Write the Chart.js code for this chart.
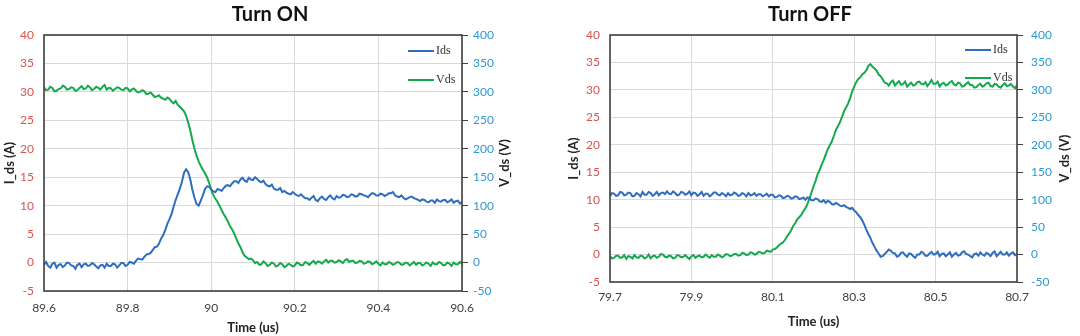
<!DOCTYPE html>
<html lang="en">
<head>
<meta charset="UTF-8">
<title>Turn ON / Turn OFF</title>
<script src="https://cdn.jsdelivr.net/npm/chart.js"></script>
<style>
  body { margin: 0; background: #fff; }
  .wrap { position: absolute; top: 0; width: 540px; height: 336px; }
  #left { left: 0; }
  #right { left: 540px; }
</style>
</head>
<body>
<div class="wrap" id="left"><canvas id="chartOn"></canvas></div>
<div class="wrap" id="right"><canvas id="chartOff"></canvas></div>
<script>
// scope samples, 5 ns apart
const onStart = 89.6, offStart = 79.7, sampleStep = 0.005;

// Turn ON, Ids (A)
const idsOn = [
  -0.4, 0.1, -0.6, -0.9, -0.2, 0.0, -0.9, -0.4, -0.3, -0.8, -0.5, 0.0, -0.1, -0.5, -0.6, -1.1, -0.4, -0.2, -0.8, -0.3,
  -0.2, -0.6, -0.5, -0.1, -0.3, -0.7, -1.0, -0.5, -0.4, -0.9, -0.2, -0.6, -0.6, -0.2, -0.3, -0.9, -0.5, -0.1, -0.1, -0.6,
  -0.4, 0.1, 0.0, -0.2, 0.3, 0.7, 0.6, 0.5, 1.0, 1.4, 1.5, 1.7, 2.2, 2.7, 2.8, 3.3, 4.2, 4.8, 5.7, 6.8,
  7.6, 8.5, 9.8, 11.0, 12.0, 13.0, 14.2, 15.8, 16.4, 15.9, 14.6, 12.8, 11.4, 10.3, 10.0, 10.9, 11.8, 12.9, 13.4, 13.3,
  12.9, 12.5, 12.4, 12.9, 12.8, 12.6, 13.1, 13.5, 13.6, 13.4, 13.9, 14.3, 14.3, 14.0, 14.6, 14.9, 14.4, 14.2, 14.9, 14.6,
  14.5, 15.0, 14.7, 14.3, 14.1, 14.4, 13.8, 13.5, 13.4, 13.7, 13.0, 12.8, 12.8, 13.1, 12.4, 12.6, 12.3, 12.1, 12.0, 12.4,
  12.1, 11.8, 11.7, 12.0, 11.6, 11.3, 11.3, 11.0, 11.4, 11.7, 11.0, 10.8, 11.3, 11.6, 11.2, 11.0, 11.5, 11.8, 11.3, 11.1,
  11.7, 11.4, 11.5, 11.9, 11.8, 11.5, 11.6, 12.0, 11.9, 11.6, 11.7, 12.1, 12.0, 11.8, 11.7, 11.5, 11.9, 12.2, 12.1, 11.8,
  11.8, 12.1, 12.0, 11.7, 11.9, 12.2, 12.2, 12.4, 11.8, 11.6, 11.5, 11.8, 11.4, 11.1, 11.3, 11.5, 11.6, 11.3, 11.2, 11.0,
  10.8, 11.1, 11.0, 10.7, 10.6, 10.9, 10.9, 10.5, 11.1, 10.8, 10.7, 11.0, 11.0, 10.6, 10.8, 11.1, 10.5, 10.8, 10.9, 10.4,
  10.6
];
// Turn ON, Vds (V)
const vdsOn = [
  308, 303, 304, 309, 307, 301, 302, 305, 306, 311, 309, 304, 305, 308, 307, 302, 303, 307, 310, 305,
  306, 311, 308, 303, 305, 309, 307, 304, 309, 312, 304, 307, 306, 302, 305, 308, 307, 304, 303, 307,
  306, 301, 304, 306, 302, 299, 300, 303, 301, 296, 297, 299, 295, 291, 292, 294, 290, 288, 286, 290,
  288, 283, 280, 284, 277, 274, 270, 266, 258, 246, 232, 215, 200, 188, 178, 170, 163, 157, 150, 140,
  128, 119, 112, 107, 100, 92, 85, 79, 72, 64, 58, 51, 42, 34, 27, 18, 12, 9, 6, 7,
  4, -1, 1, -4, -3, 2, -1, -6, -4, 0, -2, -7, -5, -1, -3, -8, -6, -2, -4, -7,
  -5, 0, -2, -5, -4, 1, -1, -4, 0, 3, -2, 2, 1, -2, 2, 5, 0, 3, 3, 0,
  1, 4, 2, -1, 4, 6, 1, 3, 3, -1, 0, 3, 2, -2, -1, 2, 1, -3, -1, 2,
  -2, -5, 0, -3, -3, 1, -1, -4, -2, 1, 0, -4, -3, 0, -1, -5, -2, 1, -4, -1,
  -1, -5, -3, 0, -2, -6, 0, -3, -3, 1, -1, -5, -4, 0, -2, -6, 0, -3, -3, 1,
  -2
];

// Turn OFF, Ids (A)
const idsOff = [
  10.6, 11.2, 11.1, 10.7, 10.8, 11.4, 11.3, 10.8, 10.9, 11.3, 11.2, 10.6, 10.7, 11.2, 11.0, 10.6, 11.4, 10.9, 10.9, 11.4,
  11.2, 10.7, 11.0, 11.4, 10.8, 11.2, 11.3, 11.0, 11.5, 11.1, 11.0, 11.5, 11.2, 10.8, 10.9, 11.4, 11.3, 10.9, 11.1, 11.5,
  10.8, 11.3, 11.2, 10.7, 11.0, 11.4, 10.7, 11.1, 11.1, 10.6, 10.9, 11.3, 11.3, 10.9, 10.8, 11.2, 11.0, 10.6, 11.2, 10.8,
  10.9, 11.3, 11.1, 10.7, 10.8, 11.2, 11.0, 10.6, 11.2, 10.8, 10.9, 11.2, 10.7, 11.0, 11.0, 10.6, 10.8, 11.1, 10.6, 10.9,
  10.9, 10.4, 10.5, 10.8, 10.7, 10.3, 10.4, 10.7, 10.6, 10.2, 10.3, 10.6, 10.5, 10.1, 10.2, 10.4, 10.0, 10.4, 10.3, 9.9,
  9.9, 10.2, 10.1, 9.7, 9.6, 9.9, 9.4, 9.8, 9.6, 9.2, 9.1, 9.4, 9.2, 8.9, 8.8, 9.0, 8.7, 8.5, 8.3, 8.5,
  8.0, 7.7, 7.2, 6.8, 6.2, 5.4, 4.5, 3.7, 3.0, 2.1, 1.4, 0.7, 0.2, -0.4, -0.3, 0.1, 0.5, 0.9, 0.7, 0.3,
  0.2, -0.4, -0.2, 0.3, 0.4, -0.1, -0.4, 0.2, 0.1, -0.3, -0.6, 0.0, 0.0, 0.5, 0.3, -0.2, -0.2, 0.2, 0.5, 0.0,
  0.1, 0.5, -0.3, 0.1, 0.2, -0.3, 0.0, 0.4, -0.4, 0.0, 0.3, -0.2, -0.1, 0.4, 0.6, 0.1, 0.0, -0.3, -0.5, 0.1,
  0.2, -0.2, 0.4, 0.0, -0.2, 0.3, 0.1, -0.3, 0.3, 0.6, -0.3, 0.1, 0.5, 0.0, 0.0, 0.4, -0.2, 0.2, 0.4, -0.1,
  0.1
];
// Turn OFF, Vds (V)
const vdsOff = [
  -3, -7, -6, -2, -2, -6, -5, -1, -8, -3, -4, -7, -1, -5, -6, -2, -3, -7, -5, 0,
  -7, -3, -2, -6, -4, 1, 0, -4, -5, -2, -3, -7, -6, -1, -2, -5, -4, -1, -5, -8,
  -3, -1, -6, -3, -2, -5, -4, 0, -3, -6, -1, -4, -4, 0, -2, -5, -3, 1, 0, -3,
  -2, 1, 1, -2, -1, 3, 2, -1, 0, 4, 3, 0, 1, 5, 4, 2, 3, 7, 6, 5,
  9, 10, 13, 17, 20, 22, 27, 33, 38, 44, 52, 57, 64, 68, 72, 79, 84, 92, 102, 113,
  124, 134, 146, 154, 164, 172, 182, 192, 199, 206, 216, 227, 234, 241, 251, 261, 268, 275, 285, 297,
  306, 314, 320, 323, 328, 331, 336, 344, 347, 342, 339, 335, 328, 325, 319, 313, 312, 308, 314, 317,
  308, 312, 316, 309, 311, 315, 306, 310, 313, 308, 309, 314, 315, 311, 310, 314, 307, 312, 318, 311,
  311, 315, 306, 311, 313, 308, 310, 314, 316, 310, 308, 313, 312, 306, 307, 311, 314, 309, 309, 304,
  305, 309, 311, 306, 308, 312, 313, 307, 306, 311, 310, 306, 304, 309, 312, 307, 308, 311, 306, 303,
  309
];

const idsColor = '#2f6ebf';
const vdsColor = '#14a94f';
const redTick = '#d9534f';
const blueTick = '#2c9ad1';

Chart.defaults.font.family = "Lato, 'Open Sans', sans-serif";
Chart.defaults.animation = false;

// plot frame, inside legend and the right axis title (reads bottom-up like the left one)
const frameLegend = {
  id: 'frameLegend',
  afterDatasetsDraw(chart, args, opts) {
    const { ctx, chartArea: a } = chart;
    ctx.save();
    ctx.strokeStyle = '#404040';
    ctx.lineWidth = 1.6;
    ctx.strokeRect(a.left, a.top, a.right - a.left, a.bottom - a.top);

    ctx.font = "12px 'Liberation Serif', serif";
    ctx.textBaseline = 'middle';
    ctx.textAlign = 'left';
    ctx.fillStyle = '#333';
    chart.data.datasets.forEach((ds, i) => {
      const y = a.top + opts.top + i * opts.gap;
      const x1 = a.right - opts.right;
      ctx.strokeStyle = ds.borderColor;
      ctx.lineWidth = 2;
      ctx.beginPath();
      ctx.moveTo(x1 - 26, y);
      ctx.lineTo(x1, y);
      ctx.stroke();
      ctx.fillText(ds.label, x1 + 2, y);
    });

    ctx.translate(a.right + opts.vTitle, (a.top + a.bottom) / 2);
    ctx.rotate(-Math.PI / 2);
    ctx.font = "bold 13px Lato, 'Open Sans', sans-serif";
    ctx.textAlign = 'center';
    ctx.fillStyle = '#222';
    ctx.fillText('V_ds (V)', 0, 0);
    ctx.restore();
  }
};

function points(start, vals) {
  return vals.map((v, i) => ({ x: start + i * sampleStep, y: v }));
}

function makeChart(id, g) {
  new Chart(document.getElementById(id), {
    type: 'line',
    data: {
      datasets: [
        { label: 'Ids', data: points(g.start, g.ids), yAxisID: 'y', borderColor: idsColor, borderWidth: 2, pointRadius: 0, tension: 0 },
        { label: 'Vds', data: points(g.start, g.vds), yAxisID: 'y1', borderColor: vdsColor, borderWidth: 2, pointRadius: 0, tension: 0 }
      ]
    },
    options: {
      responsive: true,
      maintainAspectRatio: false,
      layout: { padding: 0 },
      plugins: {
        legend: { display: false },
        tooltip: { enabled: false },
        title: {
          display: true,
          text: g.title,
          color: '#111',
          font: { size: 20, weight: 'bold' },
          padding: { top: 3, bottom: 8 }
        },
        frameLegend: g.legend
      },
      scales: {
        x: {
          type: 'linear',
          min: g.start,
          max: g.start + 1,
          ticks: {
            stepSize: 0.2,
            autoSkip: false,
            maxRotation: 0,
            color: '#404040',
            padding: g.xPad,
            font: { size: 12 },
            callback: v => String(+v.toFixed(1))
          },
          grid: { color: '#d9d9d9', drawTicks: false },
          border: { display: false },
          title: { display: true, text: 'Time (us)', color: '#222', font: { size: 13, weight: 'bold' }, padding: { top: 0, bottom: g.xTitlePad } },
          afterFit(s) { s.height = g.xHeight; }
        },
        y: {
          position: 'left',
          min: -5,
          max: 40,
          ticks: { stepSize: 5, color: redTick, padding: g.yPad, font: { size: 12 } },
          grid: { color: '#d9d9d9', drawTicks: false },
          border: { display: false },
          title: { display: true, text: 'I_ds (A)', color: '#222', font: { size: 13, weight: 'bold' }, padding: { top: g.yTitlePad, bottom: 0 } },
          afterFit(s) { s.width = g.yWidth; }
        },
        y1: {
          position: 'right',
          min: -50,
          max: 400,
          ticks: { stepSize: 50, color: blueTick, padding: g.y1Pad, font: { size: 12 } },
          grid: { drawOnChartArea: false, drawTicks: true, tickLength: 6, tickColor: '#404040' },
          border: { display: false },
          afterFit(s) { s.width = g.y1Width; }
        }
      }
    },
    plugins: [frameLegend]
  });
}

makeChart('chartOn', {
  title: 'Turn ON', start: onStart, ids: idsOn, vds: vdsOn,
  xHeight: 45, xPad: 10, xTitlePad: 0,
  yWidth: 44, yPad: 10, yTitlePad: 2,
  y1Width: 78, y1Pad: 5,
  legend: { top: 16, gap: 29, right: 28, vTitle: 43 }
});

makeChart('chartOff', {
  title: 'Turn OFF', start: offStart, ids: idsOff, vds: vdsOff,
  xHeight: 54, xPad: 8, xTitlePad: 6,
  yWidth: 70, yPad: 10, yTitlePad: 26,
  y1Width: 63, y1Pad: 8,
  legend: { top: 15, gap: 28, right: 26, vTitle: 48 }
});
</script>
</body>
</html>
